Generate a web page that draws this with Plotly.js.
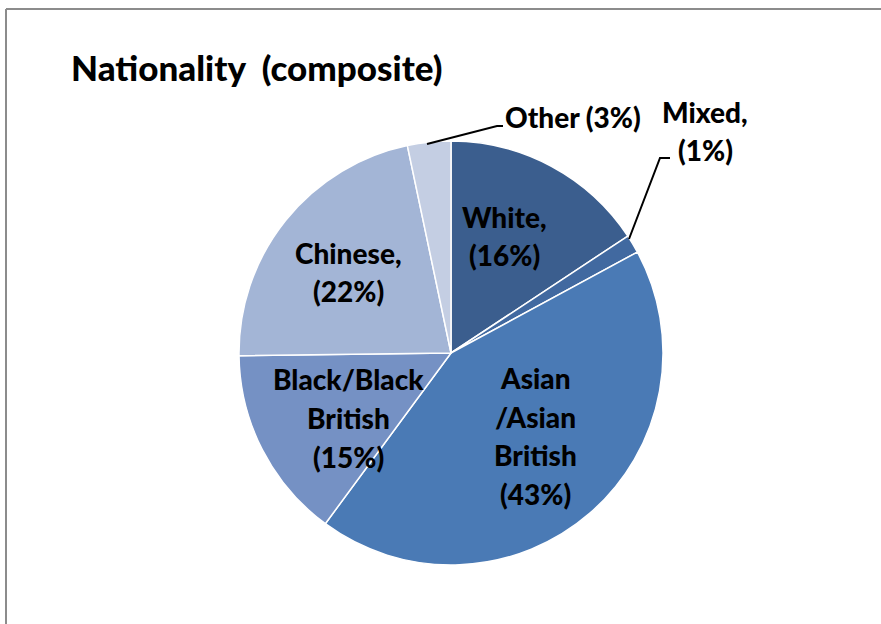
<!DOCTYPE html>
<html>
<head>
<meta charset="utf-8">
<script src="https://cdn.plot.ly/plotly-3.0.1.min.js"></script>
<style>
html,body{margin:0;padding:0;background:#fff;}
#chart{width:881px;height:624px;}
</style>
</head>
<body>
<div id="chart"></div>
<script>
// Data
const categories = ["White", "Mixed", "Asian /Asian British", "Black/Black British", "Chinese", "Other"];
const values = [15.7, 1.4, 43.0, 14.7, 21.9, 3.3];
const labelLines = [
  ["White,", "(16%)"],
  ["Mixed,", "(1%)"],
  ["Asian", "/Asian", "British", "(43%)"],
  ["Black/Black", "British", "(15%)"],
  ["Chinese,", "(22%)"],
  ["Other (3%)"]
];
const colors = ["#3B5E8E", "#4169A0", "#4A7AB5", "#7591C4", "#A3B5D6", "#C4CEE3"];
const titleText = "Nationality  (composite)";

const W = 881, H = 624;
const px = x => x / W;
const py = y => 1 - y / H;

const cx = 451, cy = 353, R = 212;

const trace = {
  type: "pie",
  labels: categories,
  values: values,
  sort: false,
  direction: "clockwise",
  rotation: 0,
  textinfo: "none",
  hoverinfo: "label+percent",
  marker: { colors: colors, line: { color: "#ffffff", width: 1.5 } },
  domain: { x: [px(cx - R), px(cx + R)], y: [py(cy + R), py(cy - R)] },
  showlegend: false
};

// label centres (pixels) and line spacing
const labelPos = [
  [504, 236],
  [705, 131],
  [535, 436],
  [348, 418],
  [348, 272],
  [573, 117]
];
const lineGap = 38.5;
const font = { family: "Lato, 'Open Sans', sans-serif", size: 28, weight: 900, color: "#000" };

const annotations = [];
labelLines.forEach((lines, i) => {
  const [lx, ly] = labelPos[i];
  const n = lines.length;
  lines.forEach((t, k) => {
    const y = ly + (k - (n - 1) / 2) * lineGap;
    annotations.push({
      xref: "paper", yref: "paper",
      x: px(lx), y: py(y),
      xanchor: "center", yanchor: "middle",
      text: t,
      showarrow: false,
      font: font
    });
  });
});
annotations.push({
  xref: "paper", yref: "paper",
  x: px(69), y: py(67),
  xanchor: "left", yanchor: "middle",
  text: titleText,
  showarrow: false,
  font: { family: "Lato, 'Open Sans', sans-serif", size: 35, weight: 900, color: "#000" }
});

const shapes = [
  // chart frame
  { type: "line", xref: "paper", yref: "paper", x0: px(6), y0: py(9), x1: 1.01, y1: py(9), line: { color: "#8c8c8c", width: 2 } },
  { type: "line", xref: "paper", yref: "paper", x0: px(6), y0: py(9), x1: px(6), y1: -0.01, line: { color: "#8c8c8c", width: 2 } },
  // leader lines
  { type: "path", xref: "paper", yref: "paper",
    path: `M ${px(427)} ${py(144)} L ${px(497)} ${py(126)} L ${px(503)} ${py(126)}`,
    line: { color: "#000", width: 2 } },
  { type: "path", xref: "paper", yref: "paper",
    path: `M ${px(629)} ${py(239)} L ${px(660)} ${py(158)} L ${px(670)} ${py(158)}`,
    line: { color: "#000", width: 2 } }
];

const layout = {
  width: W, height: H,
  margin: { l: 0, r: 0, t: 0, b: 0 },
  paper_bgcolor: "#ffffff",
  plot_bgcolor: "#ffffff",
  annotations: annotations,
  shapes: shapes
};

Plotly.newPlot("chart", [trace], layout, { displayModeBar: false, staticPlot: true });
</script>
</body>
</html>
